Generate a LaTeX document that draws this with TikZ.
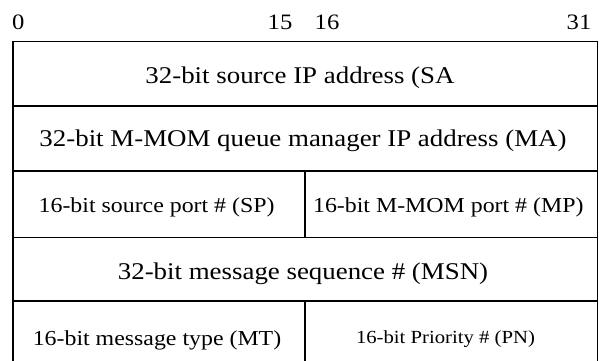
\documentclass[tikz,border=0pt]{standalone}
\usepackage{fontspec}
\setmainfont{Liberation Serif}[FakeStretch=1.12]
\begin{document}
\begin{tikzpicture}[x=1pt,y=-1pt,
    frame/.style={line width=1.6pt},
    bignum/.style={font=\fontsize{22}{22}\selectfont, inner sep=0pt, anchor=base},
    wide/.style={font=\fontsize{24}{24}\selectfont, inner sep=0pt, anchor=base},
    half/.style={font=\fontsize{21.3}{21}\selectfont, inner sep=0pt, anchor=base},
    small/.style={font=\fontsize{18.5}{18}\selectfont, inner sep=0pt, anchor=base}]
  \useasboundingbox (0,0) rectangle (599,361);
  %bit numbers
  \node[bignum] (b0)  at (18.4,30) {0};
  \node[bignum] (b15) at (280,30) {15};
  \node[bignum] (b16) at (327,30) {16};
  \node[bignum] (b31) at (579,30) {31};
  %frame
  \coordinate (TL) at (12.7,41.7);
  \coordinate (TR) at (597.3,41.7);
  \coordinate (BL) at (12.7,361);
  \coordinate (BR) at (597.3,361);
  \draw[frame] (BL) -- (TL) -- (TR) -- (BR);
  \foreach \y in {105.7,170.7,237.3,300.7}
    \draw[frame] (12.7,\y) -- (597.3,\y);
  \draw[frame] (305,170.7) -- (305,237.3);
  \draw[frame] (305,300.7) -- (305,361);
  %fields
  \node[wide] (sa)  at (300,83)  {32-bit source IP address (SA};
  \node[wide] (ma)  at (303,146) {32-bit M-MOM queue manager IP address (MA)};
  \node[half] (sp)  at (156.6,212) {16-bit source port \# (SP)};
  \node[half] (mp)  at (448.3,212) {16-bit M-MOM port \# (MP)};
  \node[wide] (msn) at (303,279) {32-bit message sequence \# (MSN)};
  \node[half] (mt)  at (157,345) {16-bit message type (MT)};
  \node[small] (pn) at (445.5,343.5) {16-bit Priority \# (PN)};
\end{tikzpicture}
\end{document}
